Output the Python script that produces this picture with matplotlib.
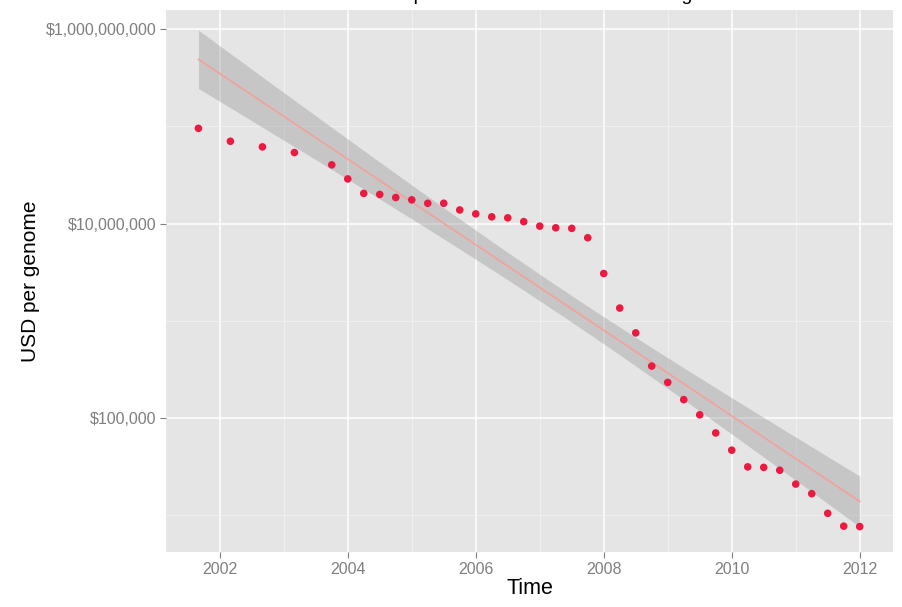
import numpy as np
import matplotlib
matplotlib.use('Agg')
import matplotlib.pyplot as plt
from matplotlib.ticker import FixedLocator, NullFormatter

plt.rcParams['font.family'] = ['Liberation Sans', 'DejaVu Sans']

# cost per genome (USD), quarterly
dates = ['2001-09', '2002-03', '2002-09', '2003-03', '2003-10', '2004-01', '2004-04',
         '2004-07', '2004-10', '2005-01', '2005-04', '2005-07', '2005-10', '2006-01',
         '2006-04', '2006-07', '2006-10', '2007-01', '2007-04', '2007-07', '2007-10',
         '2008-01', '2008-04', '2008-07', '2008-10', '2009-01', '2009-04', '2009-07',
         '2009-10', '2010-01', '2010-04', '2010-07', '2010-10', '2011-01', '2011-04',
         '2011-07', '2011-10', '2012-01']
cost = [95263072, 70175437, 61448422, 53751684, 40157554, 28780376, 20442576,
        19934346, 18519312, 17534970, 16159699, 16180224, 13801124, 12585659,
        11732535, 11455315, 10474556, 9408739, 9047003, 8927342, 7147571,
        3063820, 1352982, 752080, 342502, 232735, 154714, 108065,
        70333, 46774, 31512, 31125, 29092, 20963, 16712,
        10497, 7743, 7666]

year_ticks = [2002, 2004, 2006, 2008, 2010, 2012]
cost_ticks = [1e5, 1e7, 1e9]
cost_labels = ['$100,000', '$10,000,000', '$1,000,000,000']

t = np.array([int(d[:4]) + (int(d[5:]) - 1) / 12 for d in dates])
ly = np.log10(np.array(cost, dtype=float))

# linear fit on log scale + 95% confidence band (like geom_smooth(method='lm'))
n = len(t)
b, a = np.polyfit(t, ly, 1)
resid = ly - (a + b * t)
s = np.sqrt(np.sum(resid ** 2) / (n - 2))
sxx = np.sum((t - t.mean()) ** 2)
tt = np.linspace(t.min(), t.max(), 200)
fit = a + b * tt
se = s * np.sqrt(1 / n + (tt - t.mean()) ** 2 / sxx)
tq = 2.028
lo = 10 ** (fit - tq * se)
hi = 10 ** (fit + tq * se)

fig = plt.figure(figsize=(9.03, 6.07), dpi=100)
ax = fig.add_axes([166 / 903, 1 - 552 / 607, 727 / 903, 542 / 607])
ax.set_facecolor('#E5E5E5')
ax.set_yscale('log')
ax.set_xlim(2001.16, 2012.52)
ax.set_ylim(4200, 1.57e9)

ax.xaxis.set_major_locator(FixedLocator(year_ticks))
ax.xaxis.set_minor_locator(FixedLocator([2001, 2003, 2005, 2007, 2009, 2011]))
ax.yaxis.set_major_locator(FixedLocator(cost_ticks))
ax.yaxis.set_minor_locator(FixedLocator([1e4, 1e6, 1e8]))
ax.yaxis.set_minor_formatter(NullFormatter())
ax.set_xticklabels([str(y) for y in year_ticks])
ax.set_yticklabels(cost_labels)

ax.grid(True, which='major', color='white', linewidth=1.1)
ax.grid(True, which='minor', color='#F2F2F2', linewidth=0.6)
ax.set_axisbelow(True)
for sp in ax.spines.values():
    sp.set_visible(False)
ax.tick_params(which='major', length=4, width=0.8, color='#7F7F7F',
               labelcolor='#7F7F7F', labelsize=11.5, pad=3)
ax.tick_params(which='minor', length=0)

ax.fill_between(tt, lo, hi, color='#999999', alpha=0.4, linewidth=0, zorder=2)
ax.plot(tt, 10 ** fit, color='#F4A09A', linewidth=1.2, zorder=3)
ax.scatter(t, cost, s=30, color='#EC1A40', edgecolors='none', zorder=4)

ax.set_xlabel('Time', fontsize=15.5, labelpad=1)
ax.set_ylabel('USD per genome', fontsize=15, labelpad=4)

# title sits mostly above the visible area, as in the original
fig.text(0.587, 1 - 0.5 / 607, 'Cost per Human Genome decreasing', ha='center',
         va='baseline', fontsize=14)

fig.savefig('out.png', dpi=100)
